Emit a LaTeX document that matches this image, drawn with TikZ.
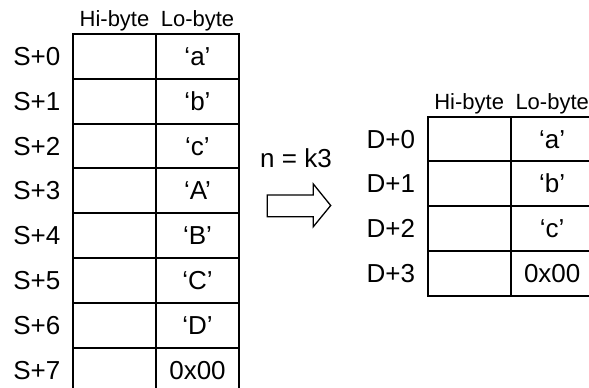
\documentclass[tikz,border=0pt]{standalone}
\usepackage{fontspec}
\setmainfont{Liberation Sans}
\begin{document}
\begin{tikzpicture}[x=1pt,y=-1pt,
  cell/.style={draw, line width=1.9pt, minimum width=83pt, minimum height=44.8pt, inner sep=0pt, outer sep=0pt, anchor=north west},
  big/.style={font=\fontsize{26}{26}\selectfont, inner sep=0pt},
  hdr/.style={font=\fontsize{22}{22}\selectfont, inner sep=0pt, anchor=base},
  blockarrow/.style={draw, line width=1.3pt, line join=miter}]
\useasboundingbox (0,0) rectangle (589,388);
% left table
\foreach \i/\t in {0/‘a’,1/‘b’,2/‘c’,3/‘A’,4/‘B’,5/‘C’,6/‘D’,7/0x00}{
  \node[cell] (sh\i) at (73,{34+44.8*\i}) {};
  \node[cell] (sl\i) at (156,{34+44.8*\i}) {};
  \node[big, anchor=base east] (sn\i) at ([xshift=-12.5pt,yshift=-9pt]sh\i.west) {S+\i};
  \node[big, anchor=base] (st\i) at ([yshift=-9pt]sl\i.center) {\t};
}
\node[hdr] (lhi) at ([yshift=7.3pt]sh0.north) {Hi-byte};
\node[hdr] (llo) at ([yshift=7.3pt]sl0.north) {Lo-byte};
% right table
\foreach \i/\t in {0/‘a’,1/‘b’,2/‘c’,3/0x00}{
  \node[cell] (dh\i) at (427.7,{116.7+44.7*\i}) {};
  \node[cell] (dl\i) at (510.7,{116.7+44.7*\i}) {};
  \node[big, anchor=base east] (dn\i) at ([xshift=-12.5pt,yshift=-9pt]dh\i.west) {D+\i};
  \node[big, anchor=base] (dt\i) at ([yshift=-9pt]dl\i.center) {\t};
}
\node[hdr] (rhi) at ([yshift=7.3pt]dh0.north) {Hi-byte};
\node[hdr] (rlo) at ([yshift=7.3pt]dl0.north) {Lo-byte};
% arrow
\node[big, anchor=base] (nlab) at (296,167.3) {n = k3};
\draw[blockarrow] (267.3,195) -- (313.3,195) -- (313.3,184) -- (330.7,205.5)
  -- (313.3,226.7) -- (313.3,216.7) -- (267.3,216.7) -- cycle;
\end{tikzpicture}
\end{document}
